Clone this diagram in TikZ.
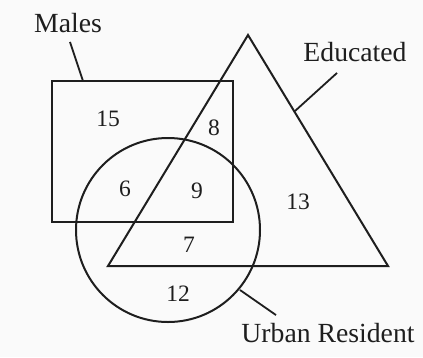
\documentclass[tikz,border=0pt]{standalone}
\usepackage{fontspec}
\setmainfont{Liberation Serif}
\usetikzlibrary{positioning,calc}
\definecolor{InkGray}{HTML}{1E1E1E}
\definecolor{PaperGray}{HTML}{FAFAFA}

\begin{document}
\begin{tikzpicture}[x=1pt,y=-1pt,
  set/.style={draw=InkGray,line width=2pt},
  lead/.style={draw=InkGray,line width=1.8pt},
  setname/.style={font=\fontsize{27.7}{30}\selectfont,text=InkGray,inner sep=0pt},
  count/.style={font=\fontsize{23.5}{26}\selectfont,text=InkGray,inner sep=0pt}
]
  \fill[PaperGray] (0,0) rectangle (423,357);
  \useasboundingbox (0,0) rectangle (423,357);
  % the three sets
  \node[set,minimum width=181pt,minimum height=141pt,inner sep=0pt] (males) at (142.5,151.5) {};
  \coordinate (apex) at (248,35);
  \coordinate (baseL) at (108,266);
  \coordinate (baseR) at (388,266);
  \draw[set,line join=miter] (apex) -- (baseR) -- (baseL) -- cycle;
  \node[set,circle,minimum size=184pt,inner sep=0pt] (urban) at (168,230) {};
  % set names and their leaders
  \node[setname] (malesname) at (68,23) {Males};
  \node[setname] (eduname) at (355,52) {Educated};
  \node[setname] (urbname) at (328,333) {Urban Resident};
  \coordinate (malesend) at (83,81);
  \coordinate (eduend) at (295,111);
  \coordinate (urbend) at (240,290);
  \draw[lead] ($(malesname.south)+(2,9)$) -- (malesend);
  \draw[lead] ($(eduname.south)+(-18,11)$) -- (eduend);
  \draw[lead] ($(urbname.north)+(-52,-8)$) -- (urbend);
  % counts in each region
  \node[count] (n15) at (108,119) {15};
  \node[count] (n8) at (214,128) {8};
  \node[count] (n6) at (125,189) {6};
  \node[count] (n9) at (197,191) {9};
  \node[count] (n13) at (298,202) {13};
  \node[count] (n7) at (189,245) {7};
  \node[count] (n12) at (178,294) {12};
\end{tikzpicture}
\end{document}
